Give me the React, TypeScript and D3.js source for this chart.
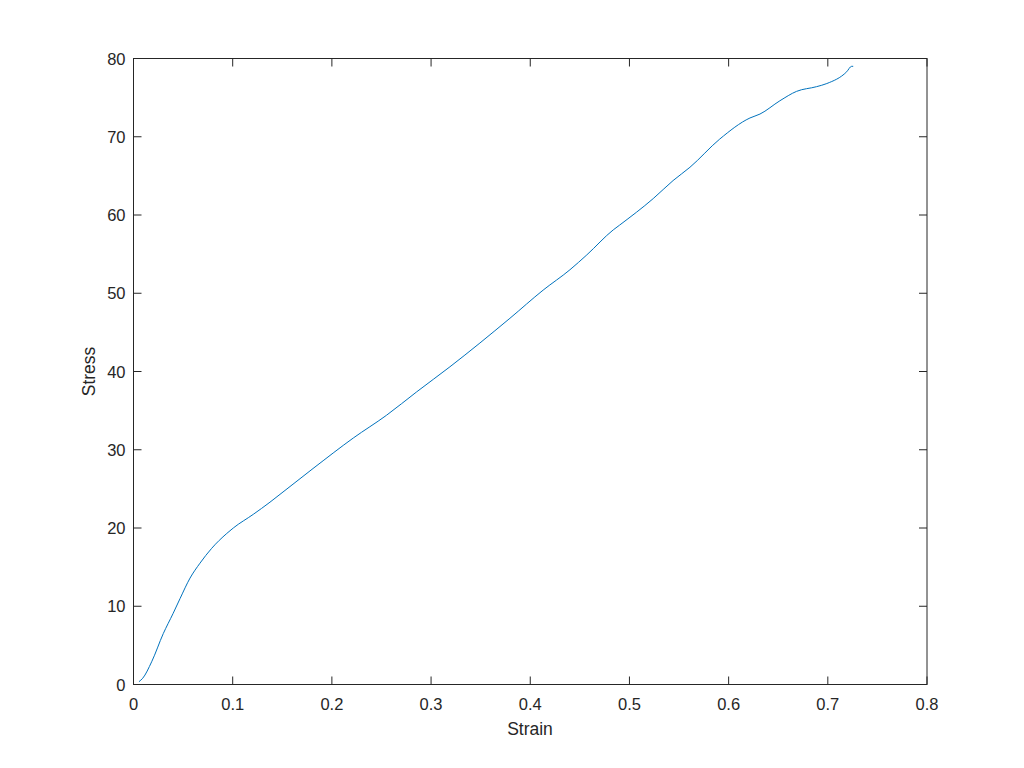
import React from "react";
import * as d3 from "d3";

const strain = [0.0055, 0.0093, 0.0183, 0.030, 0.040, 0.047, 0.057, 0.067, 0.0788, 0.094, 0.1006, 0.1208, 0.1376, 0.1477, 0.181, 0.2216, 0.255, 0.2855, 0.319, 0.3795, 0.413, 0.44, 0.457, 0.4837, 0.490, 0.524, 0.544, 0.561, 0.591, 0.6215, 0.6316, 0.6517, 0.6685, 0.6887, 0.699, 0.719, 0.724, 0.7256];
const stress = [0.36, 0.8, 2.9, 6.5, 9.1, 11.0, 13.6, 15.5, 17.4, 19.3, 20.0, 21.75, 23.3, 24.3, 27.6, 31.5, 34.4, 37.4, 40.6, 46.8, 50.4, 53.0, 54.9, 58.1, 58.7, 62.1, 64.4, 66.1, 69.7, 72.4, 72.9, 74.6, 75.8, 76.4, 76.8, 78.3, 79.0, 79.0];
const xTicks = [0, 0.1, 0.2, 0.3, 0.4, 0.5, 0.6, 0.7, 0.8];
const yTicks = [0, 10, 20, 30, 40, 50, 60, 70, 80];

export default function App() {
  const W = 1024, H = 768;
  const L = 133.5, R = 927, T = 58.5, B = 684.5;
  const x = d3.scaleLinear().domain([0, 0.8]).range([L, R]);
  const y = d3.scaleLinear().domain([0, 80]).range([B, T]);
  const pts: [number, number][] = strain.map((s, i) => [s, stress[i]]);
  const line = d3.line<[number, number]>().x(d => x(d[0])).y(d => y(d[1])).curve(d3.curveMonotoneX);
  const ax = "#262626";
  const font = "'Liberation Sans', Arial, Helvetica, sans-serif";
  const tl = 8;
  return (
    <svg width={W} height={H} style={{ position: "absolute", left: 0, top: 0, background: "#fff" }}>
      <rect x={0} y={0} width={W} height={H} fill="#fff" />
      <path d={line(pts) || ""} fill="none" stroke="#0072BD" strokeWidth={1} />
      <rect x={L} y={T} width={R - L} height={B - T} fill="none" stroke={ax} strokeWidth={1} />
      {xTicks.map(t => (
        <g key={"x" + t}>
          <line x1={x(t)} x2={x(t)} y1={B} y2={B - tl} stroke={ax} />
          <line x1={x(t)} x2={x(t)} y1={T} y2={T + tl} stroke={ax} />
          <text x={x(t)} y={709.5} textAnchor="middle" fontFamily={font} fontSize={16.5} fill={ax}>{String(t)}</text>
        </g>
      ))}
      {yTicks.map(t => (
        <g key={"y" + t}>
          <line x1={L} x2={L + tl} y1={y(t)} y2={y(t)} stroke={ax} />
          <line x1={R} x2={R - tl} y1={y(t)} y2={y(t)} stroke={ax} />
          <text x={125.5} y={y(t) + 6} textAnchor="end" fontFamily={font} fontSize={16.5} fill={ax}>{String(t)}</text>
        </g>
      ))}
      <text x={530} y={735} textAnchor="middle" fontFamily={font} fontSize={17.5} fill={ax}>Strain</text>
      <text transform={`translate(95,${(T + B) / 2}) rotate(-90)`} textAnchor="middle" fontFamily={font} fontSize={17.5} fill={ax}>Stress</text>
    </svg>
  );
}
